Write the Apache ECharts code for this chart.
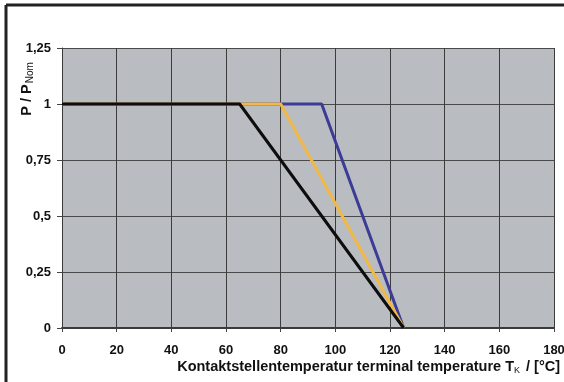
<!DOCTYPE html>
<html><head><meta charset="utf-8">
<script src="https://cdn.jsdelivr.net/npm/echarts@6/dist/echarts.min.js"></script>
<style>html,body{margin:0;padding:0;background:#fff}#c{width:564px;height:382px}</style>
</head><body><div id="c"></div>
<script>
const xTicks = [0, 20, 40, 60, 80, 100, 120, 140, 160, 180];
const yTickLabels = {0: '0', 0.25: '0,25', 0.5: '0,5', 0.75: '0,75', 1: '1', 1.25: '1,25'};
const blackX = [0, 65, 125];
const blackY = [1, 1, 0];
const orangeX = [0, 80, 125];
const orangeY = [1, 1, 0];
const blueX = [0, 95, 125];
const blueY = [1, 1, 0];

const pairs = (xs, ys) => xs.map((x, i) => [x, ys[i]]);
const font = 'Liberation Sans, Arial, sans-serif';

const chart = echarts.init(document.getElementById('c'));
chart.setOption({
  animation: false,
  backgroundColor: '#ffffff',
  grid: { left: 62, right: 10, top: 48, bottom: 54, show: true, backgroundColor: '#b9bdc1', borderWidth: 0,
    containLabel: false, outerBoundsMode: 'none' },
  xAxis: {
    type: 'value', min: 0, max: 180, interval: 20,
    axisLine: { show: true, onZero: false, lineStyle: { color: '#3a3a3a', width: 2 } },
    axisTick: { show: true, length: 4, lineStyle: { color: '#444' } },
    splitLine: { show: true, lineStyle: { color: '#3c3c3c', width: 1 } },
    axisLabel: { margin: 16, color: '#111', fontFamily: font, fontWeight: 'bold', fontSize: 13,
      formatter: v => xTicks.includes(v) ? String(v) : '' },
    name: '{a|Kontaktstellentemperatur terminal temperature T}{s|K}{a| / [°C]}',
    nameLocation: 'end', nameGap: 6,
    nameTextStyle: { align: 'right', verticalAlign: 'top', padding: [31, 0, 0, 0],
      rich: { a: { fontFamily: font, fontWeight: 'bold', fontSize: 14.5, color: '#111' },
              s: { fontFamily: font, fontSize: 9, color: '#111', verticalAlign: 'bottom', padding: [7, 2, 0, 0] } } }
  },
  yAxis: {
    type: 'value', min: 0, max: 1.25, interval: 0.25,
    axisLine: { show: true, lineStyle: { color: '#3a3a3a', width: 1 } },
    axisTick: { show: true, length: 5, lineStyle: { color: '#444' } },
    splitLine: { show: true, lineStyle: { color: '#4a4a4a', width: 1 } },
    axisLabel: { margin: 11, color: '#111', fontFamily: font, fontWeight: 'bold', fontSize: 13,
      formatter: v => yTickLabels[v] !== undefined ? yTickLabels[v] : '' }
  },
  graphic: [
    { type: 'line', shape: { x1: 6, y1: 5, x2: 564, y2: 5 }, style: { stroke: '#222', lineWidth: 3 } },
    { type: 'line', shape: { x1: 6, y1: 5, x2: 6, y2: 382 }, style: { stroke: '#222', lineWidth: 3 } },
    { type: 'text', x: 27, y: 89, rotation: Math.PI / 2,
      style: { text: '{a|P / P}{s|Nom}', textAlign: 'center', textVerticalAlign: 'middle',
        rich: { a: { fontFamily: font, fontWeight: 'bold', fontSize: 14.5, fill: '#111' },
                s: { fontFamily: font, fontSize: 10, fill: '#111', verticalAlign: 'bottom', padding: [7, 0, 0, 1] } } } }
  ],
  series: [
    { type: 'line', data: pairs(blueX, blueY), symbol: 'none', lineStyle: { color: '#3c3c96', width: 3 }, z: 2 },
    { type: 'line', data: pairs(orangeX, orangeY), symbol: 'none', lineStyle: { color: '#f2b846', width: 3 }, z: 3 },
    { type: 'line', data: pairs(blackX, blackY), symbol: 'none', lineStyle: { color: '#0d0d0d', width: 3 }, z: 4 }
  ]
});
</script></body></html>
